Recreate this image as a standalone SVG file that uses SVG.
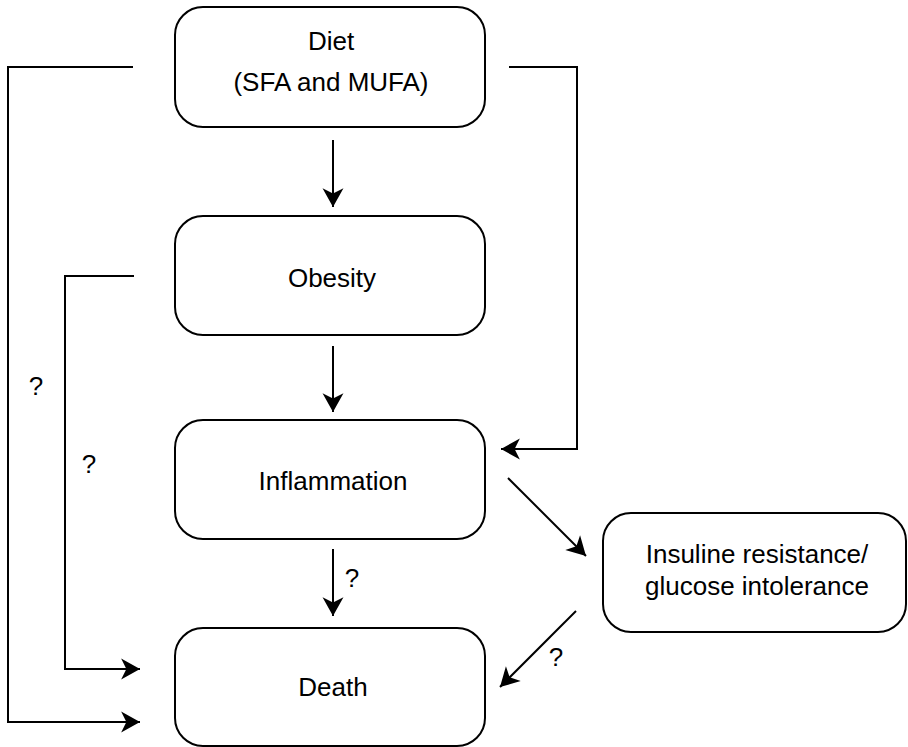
<svg xmlns="http://www.w3.org/2000/svg" width="908" height="747" viewBox="0 0 908 747">
<style>
.box{fill:#fff;stroke:#000;stroke-width:2}
.t{font-family:"Liberation Sans",Arial,sans-serif;font-size:26px;fill:#000;text-anchor:middle}
.c{fill:none;stroke:#000;stroke-width:2}
</style>
<defs>
<marker id="ah" markerUnits="userSpaceOnUse" markerWidth="22" markerHeight="24" viewBox="-1 -11 21 22" refX="18" refY="0" orient="auto">
<path d="M18,0 L0,-10 L5,0 L0,10 Z" fill="#000"/>
</marker>
</defs>
<rect width="908" height="747" fill="#fff"/>
<g id="connectors">
<polyline class="c" points="133,67 8,67 8,722 140,722" marker-end="url(#ah)"/>
<polyline class="c" points="134,276 65,276 65,669 140,669" marker-end="url(#ah)"/>
<polyline class="c" points="509,67 577,67 577,449 501,449" marker-end="url(#ah)"/>
<line class="c" x1="333" y1="140" x2="333" y2="207" marker-end="url(#ah)"/>
<line class="c" x1="333" y1="346" x2="333" y2="412" marker-end="url(#ah)"/>
<line class="c" x1="333" y1="549" x2="333" y2="616" marker-end="url(#ah)"/>
<line class="c" x1="508" y1="478" x2="586" y2="556" marker-end="url(#ah)"/>
<line class="c" x1="576" y1="611" x2="500" y2="687" marker-end="url(#ah)"/>
<text class="t" x="36" y="395">?</text>
<text class="t" x="89" y="473">?</text>
<text class="t" x="352" y="587">?</text>
<text class="t" x="556" y="666">?</text>
</g>
<g id="diet">
<rect class="box" x="175" y="7" width="310" height="120" rx="28" ry="28"/>
<text class="t" x="331" y="50">Diet</text>
<text class="t" x="331" y="91">(SFA and MUFA)</text>
</g>
<g id="obesity">
<rect class="box" x="175" y="216" width="310" height="119" rx="28" ry="28"/>
<text class="t" x="332" y="287">Obesity</text>
</g>
<g id="inflammation">
<rect class="box" x="175" y="420" width="310" height="119" rx="28" ry="28"/>
<text class="t" x="333" y="490">Inflammation</text>
</g>
<g id="death">
<rect class="box" x="175" y="628" width="310" height="118" rx="28" ry="28"/>
<text class="t" x="333" y="696">Death</text>
</g>
<g id="insuline">
<rect class="box" x="603" y="513" width="303" height="119" rx="28" ry="28"/>
<text class="t" x="757" y="563">Insuline resistance/</text>
<text class="t" x="757" y="595">glucose intolerance</text>
</g>
</svg>
